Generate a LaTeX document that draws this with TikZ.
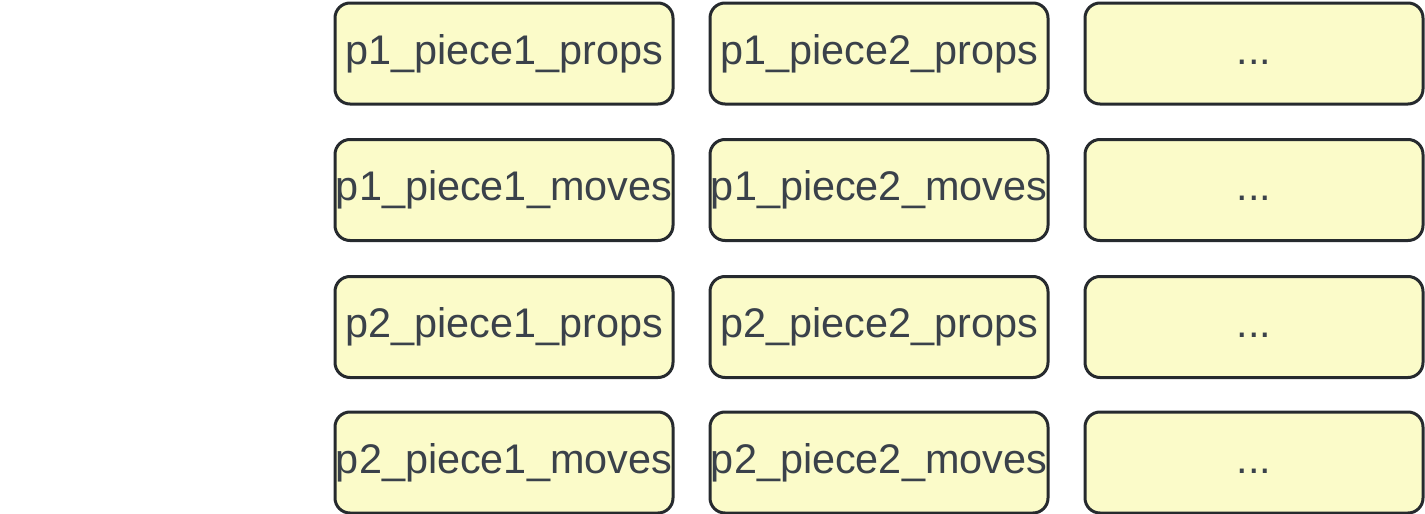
\documentclass[tikz,border=0pt]{standalone}
\usepackage{fontspec}
\setmainfont{Liberation Sans}
\definecolor{cellfill}{HTML}{FBFBC9}
\definecolor{celldraw}{HTML}{262A2E}
\definecolor{celltext}{HTML}{3A414A}

\begin{document}
\begin{tikzpicture}[x=0.5pt, y=-0.5pt,
  cell/.style={inner sep=0pt, draw=celldraw, fill=cellfill, line width=1.5pt, rectangle, rounded corners=7.5pt,
    minimum width=169pt, minimum height=50.5pt, text height=14.8pt, text depth=4.3pt,
    text=celltext, font=\fontsize{20.7}{24}\selectfont}]

\useasboundingbox (0,0) rectangle (1425,514);

\node[cell] at (504,53.5) (p1a) {p1\_piece1\_props};
\node[cell] at (879,53.5) (p1b) {p1\_piece2\_props};
\node[cell] at (1254,53.5) (p1c) {...};

\node[cell] at (504,190) (m1a) {p1\_piece1\_moves};
\node[cell] at (879,190) (m1b) {p1\_piece2\_moves};
\node[cell] at (1254,190) (m1c) {...};

\node[cell] at (504,327) (p2a) {p2\_piece1\_props};
\node[cell] at (879,327) (p2b) {p2\_piece2\_props};
\node[cell] at (1254,327) (p2c) {...};

\node[cell] at (504,462.5) (m2a) {p2\_piece1\_moves};
\node[cell] at (879,462.5) (m2b) {p2\_piece2\_moves};
\node[cell] at (1254,462.5) (m2c) {...};

\end{tikzpicture}
\end{document}
